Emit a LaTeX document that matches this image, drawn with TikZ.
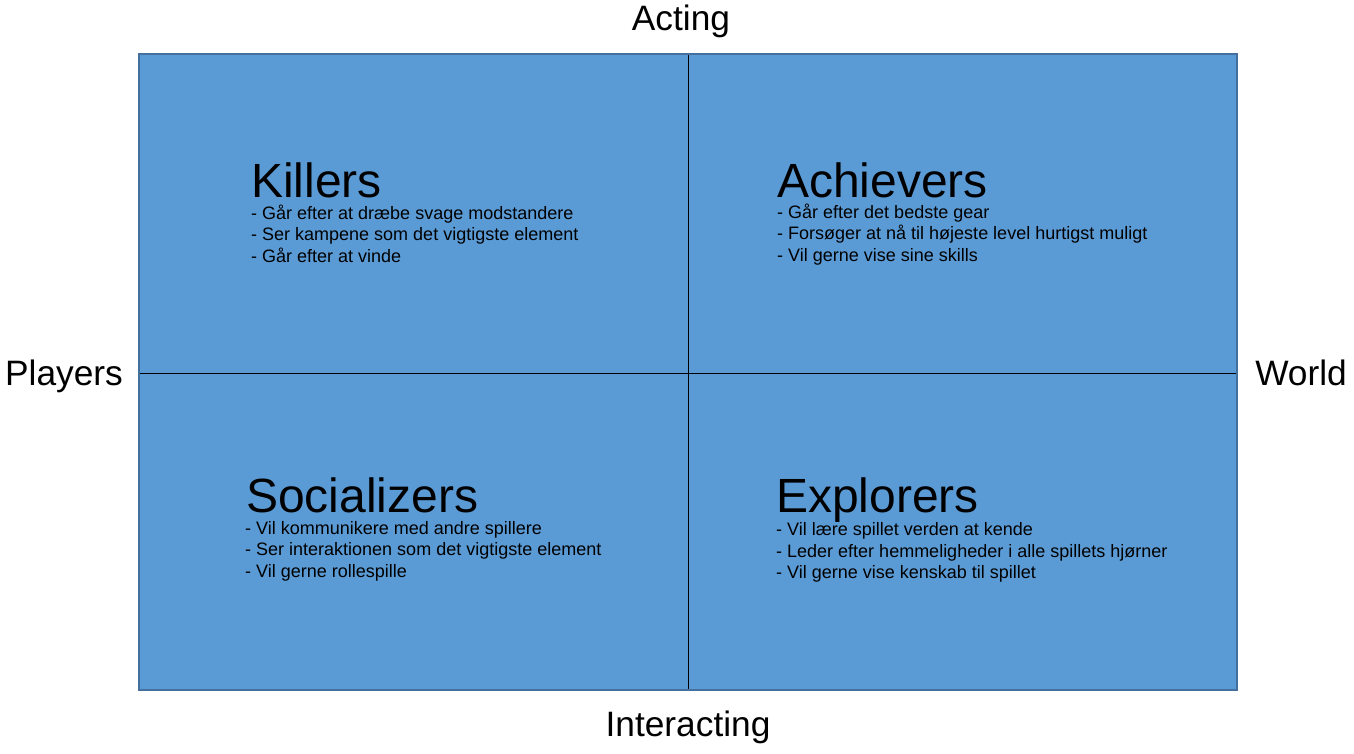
\documentclass[tikz,border=0pt]{standalone}
\usepackage{fontspec}
\setmainfont{Liberation Sans}
\begin{document}
\begin{tikzpicture}[x=1pt,y=-1pt,
  title/.style={anchor=base west,inner sep=0pt,text depth=0pt,font=\fontsize{48}{48}\selectfont},
  items/.style={anchor=north west,inner sep=0pt,align=left,font=\fontsize{18}{21.5}\selectfont},
  axis/.style={anchor=base,inner sep=0pt,font=\fontsize{35.3}{35.3}\selectfont}]
\definecolor{quadfill}{HTML}{5B9BD5}
\definecolor{quadedge}{HTML}{41719C}
\useasboundingbox (0,0) rectangle (1354,753);
% quadrant field
\coordinate (tl) at (139,54);
\coordinate (br) at (1237,690);
\fill[quadfill] (tl) rectangle (br);
\draw[black,line width=1pt] (688,54) -- (688,690);
\draw[black,line width=1pt] (139,373) -- (1237,373);
\draw[quadedge,line width=2pt] (tl) rectangle (br);
% axis labels
\node[axis] (acting) at (681,30) {Acting};
\node[axis] (interacting) at (688,736) {Interacting};
\node[axis,anchor=base west] (players) at (5,385) {Players};
\node[axis,anchor=base east] (world) at (1347,385) {World};
% quadrant titles and descriptions
\node[title] (killers) at (251,197) {Killers};
\node[items] (killersd) at (251,204.5) {- Går efter at dræbe svage modstandere\\- Ser kampene som det vigtigste element\\- Går efter at vinde};
\node[title] (achievers) at (777,197) {Achievers};
\node[items] (achieversd) at (777,203.5) {- Går efter det bedste gear\\- Forsøger at nå til højeste level hurtigst muligt\\- Vil gerne vise sine skills};
\node[title] (socializers) at (246,512) {Socializers};
\node[items] (socializersd) at (245,521) {- Vil kommunikere med andre spillere\\- Ser interaktionen som det vigtigste element\\- Vil gerne rollespille};
\node[title] (explorers) at (776,512) {Explorers};
\node[items] (explorersd) at (776,522.5) {- Vil lære spillet verden at kende\\- Leder efter hemmeligheder i alle spillets hjørner\\- Vil gerne vise kenskab til spillet};
\end{tikzpicture}
\end{document}
